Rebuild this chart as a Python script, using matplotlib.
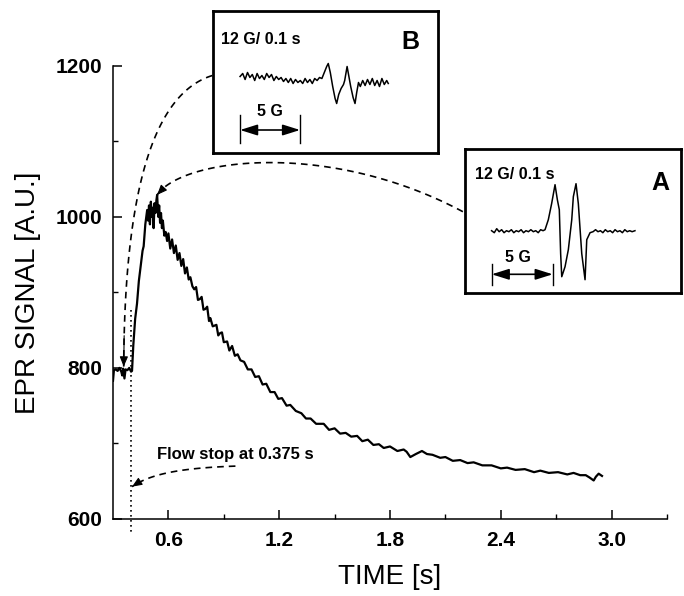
import matplotlib
matplotlib.use("Agg")
import matplotlib.pyplot as plt  # noqa: E402
import numpy as np  # noqa: E402

plt.rcParams["font.family"] = ["Liberation Sans", "DejaVu Sans"]

# stopped-flow kinetic trace (EPR signal vs time)
time_s = [
    0.300, 0.305, 0.315, 0.325, 0.335, 0.345, 0.350, 0.355, 0.362, 0.368,
    0.378, 0.388, 0.398, 0.403,
    0.410, 0.420, 0.430, 0.440, 0.450, 0.460, 0.466, 0.475, 0.485, 0.490,
    0.495, 0.500, 0.505, 0.510, 0.515, 0.520, 0.525, 0.530, 0.535, 0.539,
    0.545, 0.550, 0.555, 0.560, 0.565, 0.570, 0.578, 0.585, 0.593,
    0.600, 0.610, 0.620, 0.630, 0.640, 0.650, 0.660, 0.670, 0.680, 0.690,
    0.700, 0.710, 0.719, 0.730, 0.740, 0.750, 0.760, 0.770, 0.780, 0.790,
    0.800, 0.810, 0.820, 0.827, 0.840, 0.850, 0.860, 0.870, 0.880, 0.890,
    0.900, 0.918, 0.930, 0.945, 0.960, 0.975, 0.990, 1.010, 1.030, 1.050,
    1.070, 1.090, 1.110, 1.130, 1.152, 1.175, 1.195, 1.215, 1.240, 1.260,
    1.290, 1.320, 1.345, 1.370, 1.400, 1.441, 1.470, 1.500, 1.530, 1.560,
    1.590, 1.622, 1.650, 1.680, 1.710, 1.740, 1.766, 1.800, 1.840, 1.874,
    1.890, 1.910, 1.940, 1.973, 2.000, 2.030, 2.072, 2.100, 2.140, 2.180,
    2.220, 2.253, 2.300, 2.350, 2.400, 2.434, 2.480, 2.530, 2.580, 2.614,
    2.660, 2.710, 2.760, 2.794, 2.830, 2.860, 2.880, 2.903, 2.915, 2.930,
    2.948,
]
signal_au = [
    783, 797, 798, 796, 800, 795, 790, 799, 786, 798,
    797, 800, 795, 796,
    830, 865, 885, 915, 935, 955, 961, 990, 1009, 995,
    1015, 990, 1020, 1000, 1012, 985, 1018, 1005, 1022, 1029,
    1000, 1015, 992, 1005, 985, 995, 975, 980, 968,
    978, 958, 970, 952, 962, 943, 952, 935, 944, 925,
    933, 917, 920, 908, 904, 907, 890, 891, 894, 877,
    878, 881, 862, 866, 855, 856, 857, 843, 846, 847,
    834, 835, 823, 829, 816, 818, 810, 808, 798, 798,
    788, 789, 778, 779, 768, 768, 759, 760, 750, 751,
    743, 740, 733, 733, 726, 726, 718, 720, 713, 714,
    709, 710, 703, 705, 698, 699, 694, 696, 690, 692,
    689, 682, 686, 690, 686, 685, 681, 682, 677, 678,
    674, 675, 671, 671, 667, 668, 665, 666, 662, 664,
    661, 662, 659, 661, 658, 658, 655, 651, 656, 660,
    657,
]

# inset spectra: field offset (G) and signal (a.u.)
field_a = [2.18, 2.4, 2.6, 2.8, 3.0, 3.2, 3.4, 3.6, 3.8, 4.0, 4.2, 4.4, 4.6,
           4.8, 5.0, 5.2, 5.4, 5.6, 5.8, 6.0, 6.2, 6.4, 6.56, 6.83, 7.1, 7.38,
           7.57, 7.73, 7.84, 7.93, 8.2, 8.47, 8.75, 8.88, 9.1, 9.29, 9.57,
           9.84, 9.98, 10.25, 10.5, 10.7, 10.9, 11.1, 11.3, 11.5, 11.7, 11.9,
           12.1, 12.3, 12.5, 12.7, 12.9, 13.1, 13.3, 13.5, 13.7, 13.93]
spec_a = [62, 60, 64, 61, 63, 60, 62, 61, 63, 60, 62, 61, 63,
          60, 62, 61, 63, 61, 62, 60, 63, 62, 63, 73, 89, 108,
          93, 83, 39, 16, 26, 43, 73, 96, 109, 89, 39,
          13, 53, 60, 61, 63, 61, 62, 60, 63, 61, 62,
          60, 63, 61, 62, 60, 63, 61, 62, 61, 62]
field_b = [2.28, 2.5, 2.7, 2.9, 3.1, 3.3, 3.5, 3.7, 3.9, 4.1, 4.3, 4.5, 4.7,
           4.9, 5.1, 5.3, 5.5, 5.7, 5.9, 6.1, 6.3, 6.5, 6.7, 6.9, 7.1, 7.3,
           7.5, 7.7, 7.9, 8.1, 8.3, 8.5, 8.7, 8.9, 9.1, 9.3, 9.5, 9.63, 9.8,
           10.0, 10.2, 10.33, 10.5, 10.7, 10.9, 11.0, 11.2, 11.35, 11.5, 11.7,
           11.86, 12.0, 12.15, 12.3, 12.5, 12.7, 12.9, 13.1, 13.3, 13.5, 13.7,
           13.9, 14.1, 14.3, 14.5, 14.63]
spec_b = [76, 79, 73, 80, 75, 78, 72, 79, 74, 77, 73, 79, 75,
          78, 72, 76, 73, 75, 71, 74, 70, 74, 69, 73, 70, 72,
          69, 74, 70, 73, 69, 74, 72, 75, 74, 80, 86, 89, 80,
          66, 54, 49, 58, 64, 68, 72, 86, 76, 66, 55,
          49, 60, 70, 66, 72, 67, 73, 68, 74, 67, 72,
          66, 74, 68, 72, 69]

x_major = [0.6, 1.2, 1.8, 2.4, 3.0]
x_minor = [0.9, 1.5, 2.1, 2.7, 3.3]
y_major = [600, 800, 1000, 1200]
y_minor = [700, 900, 1100]
flow_stop = 0.395


def bezier(p0, p1, p2, p3, n=80):
    t = np.linspace(0, 1, n)[:, None]
    p0, p1, p2, p3 = (np.array(p, dtype=float) for p in (p0, p1, p2, p3))
    pts = ((1 - t) ** 3 * p0 + 3 * (1 - t) ** 2 * t * p1
           + 3 * (1 - t) * t ** 2 * p2 + t ** 3 * p3)
    return pts[:, 0], pts[:, 1]


def dashed_curve(ax, pts, head_at=None):
    x, y = bezier(*pts)
    ax.plot(x, y, color="k", lw=1.2, dashes=(4, 3), clip_on=False)
    if head_at == "end":
        tip, tail = (x[-1], y[-1]), (x[-6], y[-6])
    elif head_at == "start":
        tip, tail = (x[0], y[0]), (x[5], y[5])
    else:
        return
    ax.annotate("", xy=tip, xytext=tail, annotation_clip=False,
                arrowprops=dict(arrowstyle="-|>,head_length=0.6,head_width=0.25",
                                color="k", lw=0.8, shrinkA=0, shrinkB=0,
                                mutation_scale=10))


def inset(fig, rect, field, spec, xmax, label, title_xy, letter_xy,
          bar_x, bar_y, bar_label_xy):
    ia = fig.add_axes(rect)
    ia.plot(field, spec, color="k", lw=1.1)
    ia.set_xlim(0, xmax)
    ia.set_ylim(0, rect[3] * 596)
    ia.set_xticks([])
    ia.set_yticks([])
    for s in ia.spines.values():
        s.set_linewidth(2.0)
    ia.text(*title_xy, "12 G/ 0.1 s", fontsize=11.5, fontweight="bold",
            ha="left", va="center")
    ia.text(*letter_xy, label, fontsize=18, fontweight="bold",
            ha="center", va="center")
    for bx in bar_x:
        ia.plot([bx, bx], [bar_y[0], bar_y[1]], color="k", lw=1.0)
    ia.annotate("", xy=(bar_x[1], bar_y[2]), xytext=(bar_x[0], bar_y[2]),
                arrowprops=dict(arrowstyle="<|-|>,head_length=0.7,head_width=0.22",
                                color="k", lw=1.2, shrinkA=0, shrinkB=0,
                                mutation_scale=15))
    ia.text(*bar_label_xy, "5 G", fontsize=11.5, fontweight="bold",
            ha="center", va="center")
    return ia


fig = plt.figure(figsize=(6.84, 5.96), dpi=100)
ax = fig.add_axes([113 / 684, 1 - 519 / 596, (667 - 113) / 684,
                   (519 - 65.7) / 596])

ax.plot(time_s, signal_au, color="k", lw=1.6)
ax.set_xlim(0.3, 3.3)
ax.set_ylim(600, 1200)

ax.set_xticks(x_major)
ax.set_xticks(x_minor, minor=True)
ax.set_xticklabels([f"{v:.1f}" for v in x_major])
ax.set_yticks(y_major)
ax.set_yticks(y_minor, minor=True)
ax.spines["top"].set_visible(False)
ax.spines["right"].set_visible(False)
for s in ("left", "bottom"):
    ax.spines[s].set_linewidth(1.1)
ax.tick_params(which="major", direction="in", length=6.5, width=1.1,
               labelsize=15)
ax.tick_params(which="minor", direction="in", length=3.5, width=1.0)
ax.tick_params(axis="x", which="major", pad=9)
ax.tick_params(axis="y", which="major", pad=8)
for lab in ax.get_xticklabels() + ax.get_yticklabels():
    lab.set_fontweight("bold")

ax.set_xlabel("TIME [s]", fontsize=20, labelpad=10)
ax.set_ylabel("EPR SIGNAL [A.U.]", fontsize=20, labelpad=10)

# flow stop marker
ax.plot([flow_stop, flow_stop], [877, 581], color="k", lw=1.2, ls=(0, (1, 2)),
        clip_on=False)
ax.text(0.539, 685, "Flow stop at 0.375 s", fontsize=12, fontweight="bold",
        ha="left", va="center")
dashed_curve(ax, [(0.963, 670), (0.665, 667.5), (0.5025, 659.6),
                  (0.403, 642.8)], head_at="end")

# connectors to the insets
dashed_curve(ax, [(0.838, 1187), (0.5025, 1162), (0.362, 1022.5),
                  (0.358, 801.7)], head_at="end")
dashed_curve(ax, [(0.539, 1029), (0.676, 1078), (1.477, 1102),
                  (2.208, 1005)], head_at="start")

inset(fig, [212.7 / 684, 1 - 152.5 / 596, 225.6 / 684, 141.5 / 596],
      field_b, spec_b, 225.6 / 12, "B",
      title_xy=(0.67, 112.5), letter_xy=(16.45, 110.5),
      bar_x=(2.28, 7.28), bar_y=(9.2, 37.5, 22.5),
      bar_label_xy=(4.78, 40.5))
inset(fig, [465 / 684, 1 - 292.7 / 596, 216 / 684, 143.4 / 596],
      field_a, spec_a, 216 / 12.2, "A",
      title_xy=(0.82, 118.7), letter_xy=(16.02, 109.7),
      bar_x=(2.19, 7.19), bar_y=(7.7, 28.7, 18.4),
      bar_label_xy=(4.3, 35.2))

fig.savefig("out.png", dpi=100)
